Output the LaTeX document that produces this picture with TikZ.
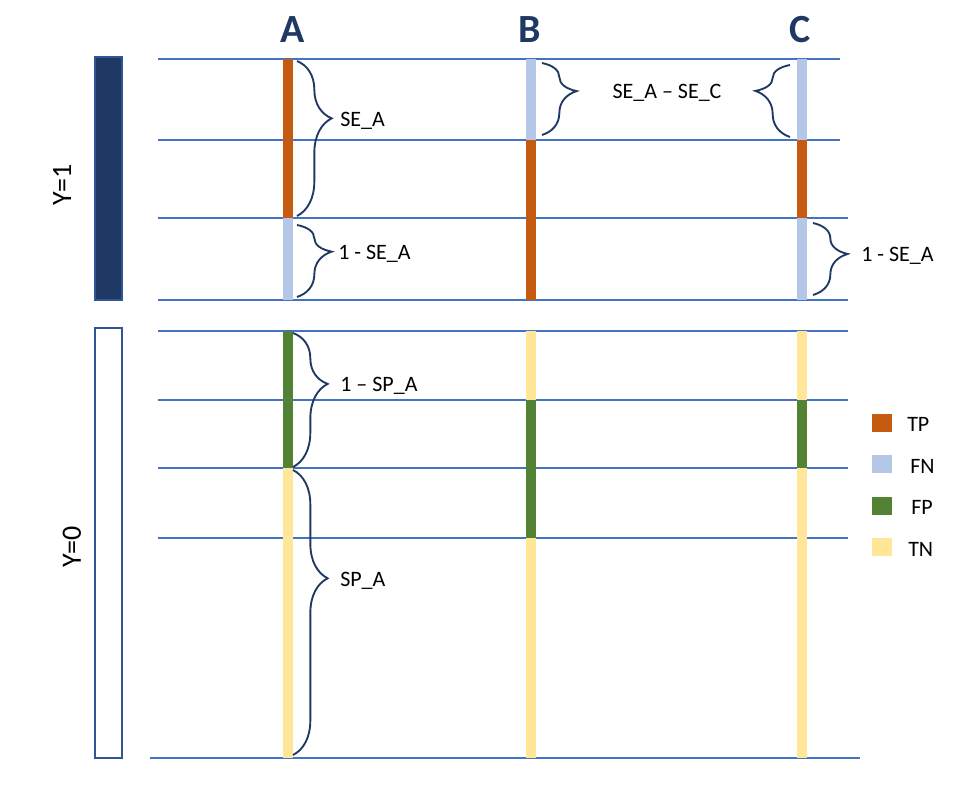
\documentclass[tikz,border=0pt]{standalone}
\usepackage{fontspec}
\setmainfont{Carlito}
\usepackage{xcolor}
\usetikzlibrary{positioning,decorations.pathreplacing}

\definecolor{tpcol}{HTML}{C55A11}
\definecolor{fncol}{HTML}{B4C7E7}
\definecolor{fpcol}{HTML}{548235}
\definecolor{tncol}{HTML}{FFE699}
\definecolor{gridcol}{HTML}{4472C4}
\definecolor{navy}{HTML}{203864}
\definecolor{boxline}{HTML}{2F5597}

\begin{document}
\begin{tikzpicture}[x=0.75pt,y=-0.75pt,
    gridline/.style={gridcol, line width=0.8pt},
    lbl/.style={font=\fontsize{16.5}{19}\selectfont, inner sep=0pt},
    head/.style={font=\fontsize{30}{36}\selectfont\bfseries, text=navy},
    ylbl/.style={font=\fontsize{21}{25}\selectfont, rotate=90, inner sep=0pt},
    brc/.style={decorate, decoration={brace, amplitude=26pt, aspect=#1}, navy, line width=1.4pt},
    brc/.default=0.5,
    legbox/.style={minimum width=15pt, minimum height=13pt, inner sep=0pt}]
    \useasboundingbox (0,0) rectangle (974,805);

    % column headers
    \node (headA) [head] at (293,30) {A};
    \node (headB) [head] at (530,30) {B};
    \node (headC) [head] at (800,30) {C};

    % Y boxes
    \draw[boxline, fill=navy, line width=1.5pt] (95,57) rectangle (122,300);
    \draw[boxline, line width=1.5pt] (95,328) rectangle (122,758);
    \node (yOne) [ylbl] at (62,185) {Y=1};
    \node (yZero) [ylbl] at (72,547) {Y=0};

    % grid lines
    \foreach \y/\r in {59/840, 140/840, 218/848, 300/848, 331/848, 400/848, 468/848, 538/848}
        \draw[gridline] (158,\y) -- (\r,\y);
    \draw[gridline] (150,758) -- (860,758);

    % bars
    \foreach \x/\a/\b/\c in {283/59/218/tpcol, 283/218/300/fncol, 283/331/468/fpcol, 283/468/758/tncol,
                             526/59/140/fncol, 526/140/300/tpcol, 526/331/400/tncol, 526/400/538/fpcol, 526/538/758/tncol,
                             797/59/140/fncol, 797/140/218/tpcol, 797/218/300/fncol, 797/331/400/tncol, 797/400/468/fpcol, 797/468/758/tncol}
        \fill[\c] (\x,\a) rectangle (\x+10,\b);

    % braces
    \draw[brc=0.37] (297,61) -- (297,216);
    \draw[brc=0.37] (297,225) -- (297,297);
    \draw[brc=0.39] (542,63) -- (542,135);
    \draw[brc=0.64] (790,137) -- (790,65);
    \draw[brc=0.43] (813,223) -- (813,295);
    \draw[brc=0.38] (293,333) -- (293,467);
    \draw[brc=0.38] (293,470) -- (293,755);

    % brace labels
    \node (seA) [lbl, anchor=west] at (340,121) {SE\_A};
    \node (notSeA) [lbl, anchor=west] at (338,254) {1 - SE\_A};
    \node (seDiff) [lbl] at (667,93) {SE\_A -- SE\_C};
    \node (notSeC) [lbl, anchor=west] at (861,256) {1 - SE\_A};
    \node (notSpA) [lbl, anchor=west] at (340,386) {1 -- SP\_A};
    \node (spA) [lbl, anchor=west] at (340,581) {SP\_A};

    % legend
    \node (boxTP) [legbox, fill=tpcol] at (882,423) {};
    \node (boxFN) [legbox, fill=fncol] at (882,464) {};
    \node (boxFP) [legbox, fill=fpcol] at (882,506) {};
    \node (boxTN) [legbox, fill=tncol] at (882,547) {};
    \node (txtTP) [lbl, anchor=west] at (907,424) {TP};
    \node (txtFN) [lbl, anchor=west] at (910,466) {FN};
    \node (txtFP) [lbl, anchor=west] at (911,507) {FP};
    \node (txtTN) [lbl, anchor=west] at (908,549) {TN};
\end{tikzpicture}
\end{document}
